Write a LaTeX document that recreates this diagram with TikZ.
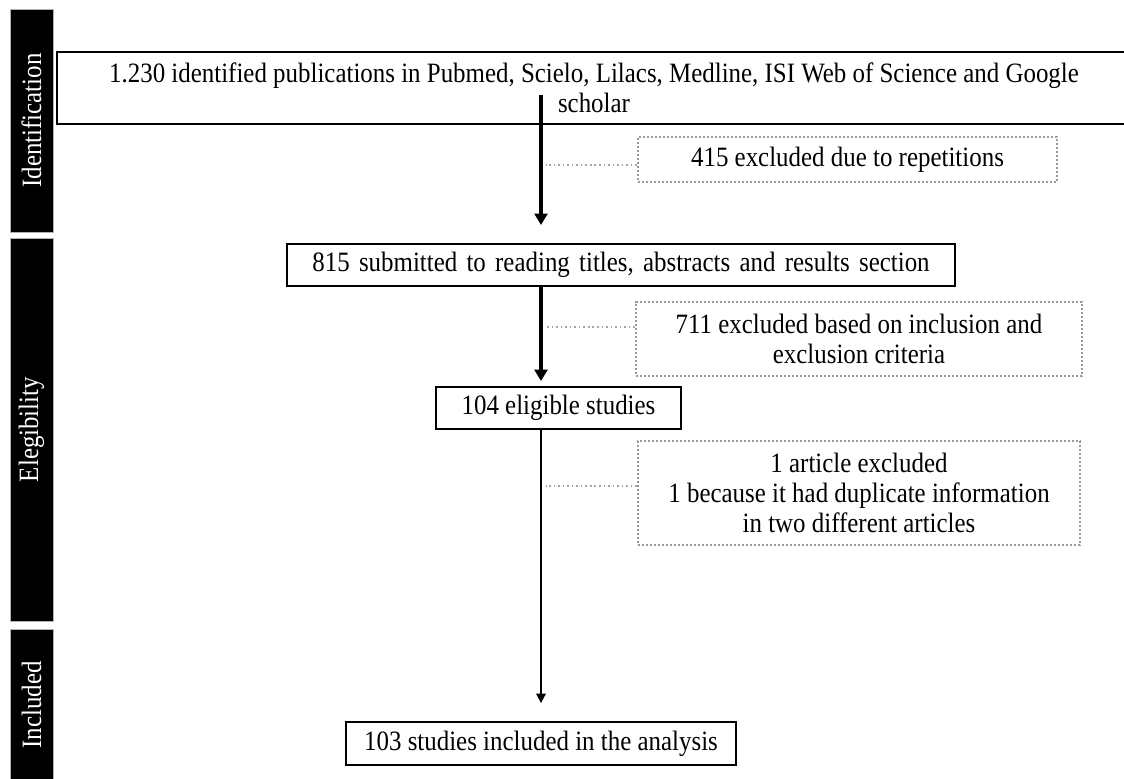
\documentclass[tikz,border=0pt]{standalone}
\usepackage{fontspec}
\setmainfont[FakeStretch=0.89]{Liberation Serif}
\usetikzlibrary{arrows.meta,calc}
\newcommand\diagfont{\fontsize{21}{22.5}\selectfont}
\begin{document}
\begin{tikzpicture}[x=0.75pt,y=-0.75pt,
  stage/.style={fill=black, draw=gray!60, line width=0.5pt, text=white, rotate=90, minimum height=32.25pt, inner sep=0pt, font=\diagfont},
  box/.style={draw=black, line width=1.4pt, fill=white, inner sep=0pt, align=center, font=\diagfont},
  dbox/.style={draw=gray!80, line width=1.7pt, dash pattern=on 1.7pt off 1.3pt, inner sep=0pt, align=center, font=\diagfont},
  dline/.style={draw=gray!70, line width=1.2pt, dash pattern=on 1.2pt off 2.2pt},
  thickarr/.style={draw=black, line width=2.3pt, -{Triangle[length=8.5pt,width=9.5pt]}},
  thinarr/.style={draw=black, line width=1.3pt, -{Triangle[length=7pt,width=7pt]}}
]
\useasboundingbox (0,0) rectangle (1124,778);
% stage bars
\node[stage, minimum width=167.25pt] (s1) at (31.5,120.5) {Identification};
\node[stage, minimum width=287.25pt] (s2) at (31.5,429.5) {Elegibility};
\node[stage, minimum width=114pt] (s3) at (31.5,705) {Included};
% boxes
\node[box, minimum width=805.5pt, minimum height=54pt, line width=1.6pt] (top) at (594,88)
  {1.230 identified publications in Pubmed, Scielo, Lilacs, Medline, ISI Web of Science and Google\\scholar};
\node[dbox, minimum width=314.25pt, minimum height=33.75pt] (d1) at (847.5,159.5) {415 excluded due to repetitions};
\node[box, minimum width=501pt, minimum height=31.5pt] (b815) at (621,265) {\spaceskip=0.33em\relax 815 submitted to reading titles, abstracts and results section};
\node[dbox, minimum width=334.5pt, minimum height=55.5pt] (d2) at (859,339) {711 excluded based on inclusion and\\exclusion criteria};
\node[box, minimum width=183.75pt, minimum height=31.5pt] (b104) at (558.5,408) {104 eligible studies};
\node[dbox, minimum width=331.5pt, minimum height=78pt] (d3) at (859,493) {1 article excluded\\1 because it had duplicate information\\in two different articles};
\node[box, minimum width=292.5pt, minimum height=32.25pt] (b103) at (541,743.5) {103 studies included in the analysis};
% arrows
\coordinate (a1s) at (541,95);
\draw[thickarr, shorten >=13.5pt] (a1s) -- (a1s |- b815.north);
\draw[thickarr, shorten >=3.75pt] (b815.south -| a1s) -- (b104.north -| a1s);
\draw[thinarr, shorten >=13.5pt] (b104.south -| b103.north) -- (b103.north);
% dotted links
\draw[dline] ($(d1.west)+(0,5.5)$) -- ($(d1.west -| a1s)+(5,5.5)$);
\draw[dline] ($(d2.west)+(0,-12)$) -- ($(d2.west -| a1s)+(5,-12)$);
\draw[dline] ($(d3.west)+(0,-7)$) -- ($(d3.west -| a1s)+(5,-7)$);
\end{tikzpicture}
\end{document}
